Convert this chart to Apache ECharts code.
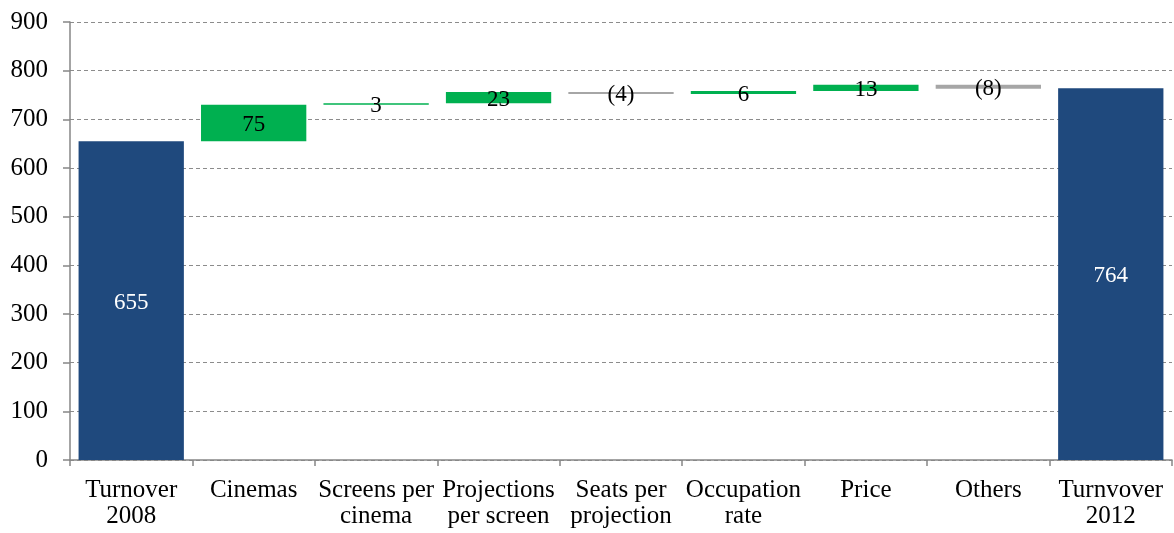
<!DOCTYPE html>
<html>
<head>
<meta charset="utf-8">
<script src="https://cdn.jsdelivr.net/npm/echarts@6/dist/echarts.min.js"></script>
<style>
  html, body { margin: 0; padding: 0; background: #ffffff; }
  #chart { width: 1174px; height: 533px; }
</style>
</head>
<body>
<div id="chart"></div>
<script>
// Cinema turnover bridge, 2008 -> 2012
const categories = [
  'Turnover\n2008', 'Cinemas', 'Screens per\ncinema', 'Projections\nper screen',
  'Seats per\nprojection', 'Occupation\nrate', 'Price', 'Others', 'Turnvover\n2012'
];
const startTotal = 655;
const endTotal = 764;
const drivers = [75, 3, 23, -4, 6, 13, -8];
const yTicks = { min: 0, max: 900, interval: 100 };

const NAVY = '#1F497D';
const GREEN = '#00B050';
const GREY = '#A6A6A6';
const FONT = '"Liberation Serif", "Times New Roman", serif';

// Build invisible base + visible step for each column
const baseData = [];
const stepData = [];
baseData.push(0);
stepData.push({ value: startTotal, itemStyle: { color: NAVY }, label: { color: '#ffffff', formatter: String(startTotal) } });
let running = startTotal;
drivers.forEach(d => {
  const lo = d >= 0 ? running : running + d;
  baseData.push(lo);
  stepData.push({
    value: Math.abs(d),
    itemStyle: { color: d >= 0 ? GREEN : GREY },
    label: { color: '#000000', formatter: d >= 0 ? String(d) : '(' + Math.abs(d) + ')' }
  });
  running += d;
});
baseData.push(0);
stepData.push({ value: endTotal, itemStyle: { color: NAVY }, label: { color: '#ffffff', formatter: String(endTotal) } });

const chart = echarts.init(document.getElementById('chart'));
chart.setOption({
  animation: false,
  grid: { left: 70, right: 2, top: 22, bottom: 73, containLabel: false },
  xAxis: {
    type: 'category',
    data: categories,
    axisLine: { lineStyle: { color: '#868686', width: 1.5 } },
    axisTick: { show: true, alignWithLabel: false, length: 6, lineStyle: { color: '#868686', width: 1.5 } },
    axisLabel: {
      interval: 0, color: '#000000', fontFamily: FONT, fontSize: 25,
      lineHeight: 26, margin: 17
    }
  },
  yAxis: {
    type: 'value',
    min: yTicks.min, max: yTicks.max, interval: yTicks.interval,
    axisLine: { show: true, lineStyle: { color: '#868686', width: 1.5 } },
    axisTick: { show: true, length: 7, lineStyle: { color: '#868686', width: 1.5 } },
    axisLabel: { color: '#000000', fontFamily: FONT, fontSize: 25, margin: 22 },
    splitLine: { lineStyle: { color: '#8c8c8c', type: [4, 3], width: 1 } }
  },
  series: [
    {
      type: 'bar', stack: 'bridge', data: baseData,
      itemStyle: { color: 'transparent' }, silent: true,
      barCategoryGap: '14%'
    },
    {
      type: 'bar', stack: 'bridge', data: stepData,
      barCategoryGap: '14%',
      label: {
        show: true, position: 'inside', fontFamily: FONT, fontSize: 23, offset: [0, 2]
      }
    }
  ]
});
</script>
</body>
</html>
